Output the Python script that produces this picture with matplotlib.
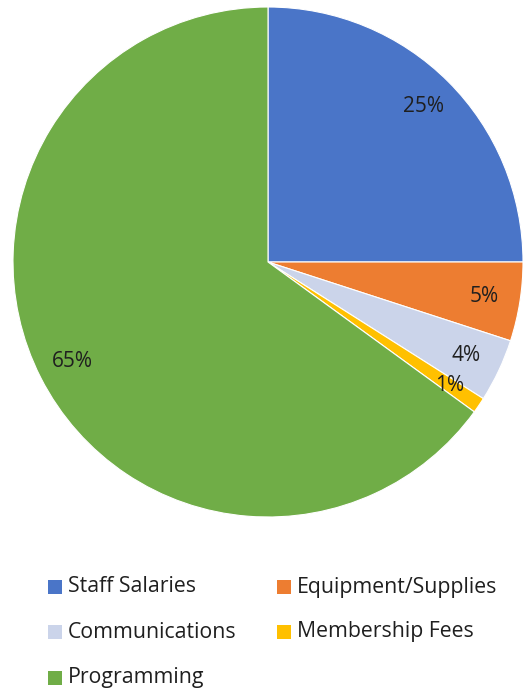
import matplotlib.pyplot as plt
from matplotlib.patches import Rectangle

plt.rcParams['font.family'] = ['Open Sans', 'DejaVu Sans']

categories = ['Staff Salaries', 'Equipment/Supplies', 'Communications',
              'Membership Fees', 'Programming']
shares = [25, 5, 4, 1, 65]
colors = ['#4A75C8', '#ED7D31', '#CBD4EA', '#FFC000', '#70AD47']

W, H = 523, 693
fig = plt.figure(figsize=(W / 100, H / 100), dpi=100)
ax = fig.add_axes([13 / W, (H - 517) / H, 510 / W, 510 / H])

wedges, texts, autotexts = ax.pie(
    shares, colors=colors, startangle=90, counterclock=False,
    autopct='%d%%', pctdistance=0.86,
    wedgeprops=dict(edgecolor='white', linewidth=0.8),
    textprops=dict(fontsize=15, color='#1f1f1f'))
ax.set_xlim(-1, 1)
ax.set_ylim(-1, 1)
ax.set_aspect('equal')

# legend drawn by hand, two entries per row
col_x = [48, 277]
row_y = [587, 632, 678]
box = 14
for i, (name, c) in enumerate(zip(categories, colors)):
    x0 = col_x[i % 2]
    y0 = row_y[i // 2]
    fig.patches.append(Rectangle((x0 / W, 1 - (y0 + box / 2) / H), box / W, box / H,
                                 transform=fig.transFigure, facecolor=c,
                                 edgecolor='none'))
    fig.text((x0 + box + 6) / W, 1 - y0 / H, name, fontsize=15.3,
             color='#1f1f1f', va='center', ha='left')

fig.savefig('out.png', dpi=100)
